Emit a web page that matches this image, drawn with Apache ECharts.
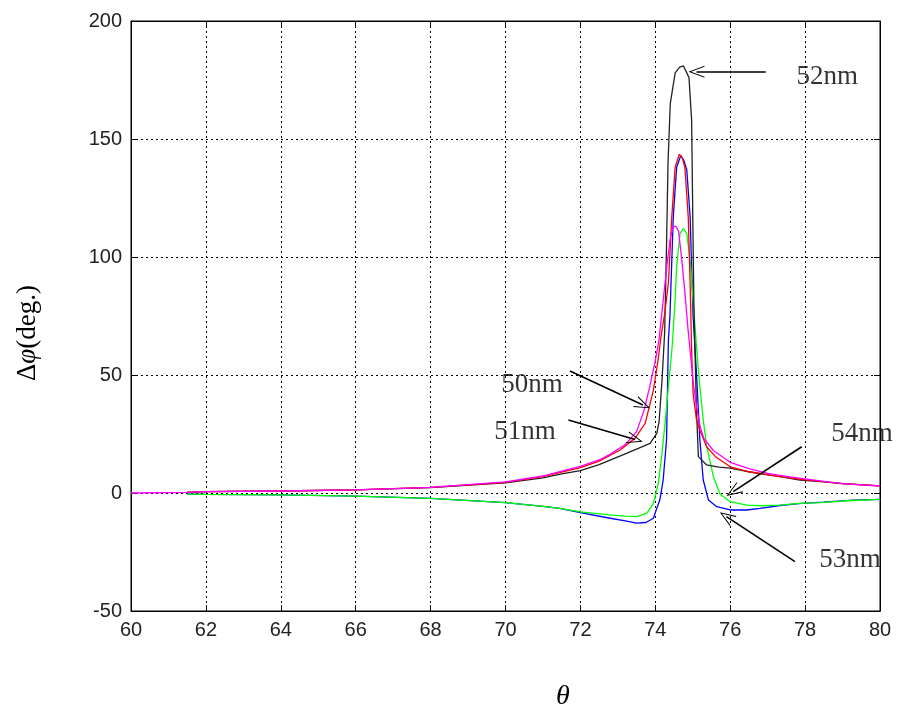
<!DOCTYPE html>
<html>
<head>
<meta charset="utf-8">
<script src="https://cdn.jsdelivr.net/npm/echarts@6/dist/echarts.min.js"></script>
<style>
  html, body { margin: 0; padding: 0; background: #fff; }
  #chart { width: 904px; height: 718px; }
</style>
</head>
<body>
<div id="chart"></div>
<script>
// theta (deg) and delta phi (deg), one pair of arrays per thickness
var theta50 = [60, 61.5, 62, 64, 66, 68, 70, 71, 71.5, 72, 72.5, 72.8, 73.2, 73.5, 73.7, 73.85, 74.0, 74.1, 74.2, 74.3, 74.4, 74.48, 74.55, 74.62, 74.7, 74.79, 74.87, 74.95, 75.02, 75.1, 75.2, 75.3, 75.55, 76, 76.5, 77, 77.5, 78, 78.5, 79, 79.5, 80];
var phi50   = [0, 0.3, 0.6, 0.85, 1.3, 2.4, 4.7, 7.2, 9.3, 11.3, 14, 16.5, 20.5, 26, 35, 45, 56, 65, 80, 95, 108, 113, 113, 111, 100, 85, 70, 57, 46, 36.6, 28, 23, 18, 13, 10.3, 8.3, 7, 6, 4.9, 4, 3.4, 3];

var theta51 = [61.5, 62, 64, 66, 68, 70, 71, 71.5, 72, 72.5, 73.06, 73.46, 73.73, 73.95, 74.08, 74.15, 74.25, 74.35, 74.44, 74.53, 74.64, 74.72, 74.79, 74.88, 74.93, 74.97, 75.01, 75.1, 75.19, 75.37, 75.6, 76, 76.5, 77, 77.33, 78, 78.5, 79, 80];
var phi51   = [0.3, 0.6, 0.85, 1.3, 2.4, 4.5, 6.9, 8.8, 10.8, 13.5, 18.2, 23.2, 29.5, 43.6, 57, 66, 76, 89, 117, 138, 143.6, 142, 138, 117, 89, 60.6, 42, 31, 26.7, 19.6, 15.5, 11.1, 9, 7.8, 6.9, 5.6, 4.8, 4, 3];

var theta52 = [61.5, 62, 64, 66, 68, 70, 71, 71.5, 72, 72.5, 73.23, 73.86, 74.04, 74.1, 74.18, 74.25, 74.3, 74.34, 74.4, 74.53, 74.65, 74.75, 74.9, 74.97, 75.0, 75.03, 75.06, 75.1, 75.15, 75.37, 75.7, 76, 76.5, 77, 77.33, 77.86, 78.5, 79, 80];
var phi52   = [0.3, 0.6, 0.85, 1.3, 2.3, 4.3, 6.4, 8.1, 9.5, 12, 16.8, 21, 25.3, 30, 48, 68, 105, 140, 165, 178, 180.5, 181, 176, 158, 118, 80, 60, 35, 15.4, 11.9, 11, 10.5, 9, 7.7, 6.9, 5.5, 4.7, 4, 3];

var theta53 = [61.5, 62, 64, 66, 68, 70, 71, 71.45, 72, 72.8, 73.2, 73.5, 73.75, 73.95, 74.05, 74.12, 74.21, 74.3, 74.35, 74.39, 74.48, 74.57, 74.68, 74.76, 74.84, 74.93, 74.97, 75.01, 75.1, 75.19, 75.28, 75.42, 75.64, 76, 76.44, 76.8, 77.33, 77.9, 78.5, 79.28, 80];
var phi53   = [-0.5, -0.6, -0.8, -1.3, -2.3, -4.1, -5.7, -6.5, -8.3, -10.7, -11.8, -12.8, -12.5, -10.7, -6, -3, 5.5, 22.5, 64.8, 74.7, 117, 138, 143, 141, 137, 117, 96, 74.7, 50.7, 22.5, 5.5, -3, -5.8, -7.2, -7.2, -6.5, -5.3, -4.4, -3.9, -3, -2.7];

var theta54 = [61.5, 62, 64, 66, 68, 70, 71, 71.45, 72, 72.79, 73.2, 73.5, 73.77, 73.95, 74.08, 74.17, 74.26, 74.35, 74.45, 74.53, 74.57, 74.66, 74.75, 74.84, 74.93, 75.01, 75.1, 75.19, 75.28, 75.37, 75.55, 75.73, 76, 76.44, 76.8, 77.33, 77.86, 78.4, 79, 80];
var phi54   = [-0.5, -0.6, -0.8, -1.3, -2.3, -4.1, -5.7, -6.5, -8.0, -9.3, -9.8, -10, -8.6, -4.4, 4.1, 15.4, 29.5, 45, 62, 82, 96, 110, 112, 110, 98.7, 81.8, 62, 45, 31, 20, 7, -0.5, -3.7, -5.1, -5.4, -5.1, -4.4, -4.1, -3.4, -2.7];

// annotation texts with their centres, and arrows (tail -> tip) in data units
var labelNames = ['52nm', '50nm', '51nm', '54nm', '53nm'];
var labelPos   = [[78.59, 176.5], [70.71, 45.8], [70.52, 25.8], [79.52, 25], [79.2, -28.4]];
var arrows = [
  [[76.95, 178.5], [75.1, 178.5]],
  [[71.72, 51.7], [73.67, 37.3]],
  [[71.68, 30.9], [73.46, 22.7]],
  [[77.91, 19.6], [76.08, 0.6]],
  [[77.73, -29.1], [75.9, -10]]
];

var xTicks = { min: 60, max: 80, interval: 2 };
var yTicks = { min: -50, max: 200, interval: 50 };

function pairs(xs, ys) {
  var out = [];
  for (var i = 0; i < xs.length; i++) out.push([xs[i], ys[i]]);
  return out;
}

function curve(name, color, xs, ys) {
  return {
    name: name,
    type: 'line',
    data: pairs(xs, ys),
    showSymbol: false,
    smooth: false,
    silent: true,
    lineStyle: { color: color, width: 1.3 },
    itemStyle: { color: color },
    z: 3
  };
}

// open "V" arrow head
var chevron = 'path://M10,0 L20,24 L18.2,24 L10,4 L1.8,24 L0,24 Z';

var chart = echarts.init(document.getElementById('chart'));
var tickFont = { fontFamily: 'Liberation Sans, Arial, sans-serif', fontSize: 20, color: '#222' };

chart.setOption({
  animation: false,
  backgroundColor: '#fff',
  grid: { left: 131, right: 24, top: 21, bottom: 107, show: true, borderColor: '#000', borderWidth: 1 },
  xAxis: [
    {
      type: 'value', min: xTicks.min, max: xTicks.max, interval: xTicks.interval,
      axisLine: { show: true, onZero: false, lineStyle: { color: '#000' } },
      axisTick: { show: true, inside: true, length: 6, lineStyle: { color: '#000' } },
      axisLabel: Object.assign({ margin: 9 }, tickFont),
      splitLine: { show: true, lineStyle: { color: '#000', type: [2, 3], width: 1 } }
    },
    {
      type: 'value', position: 'top', min: xTicks.min, max: xTicks.max, interval: xTicks.interval,
      axisLine: { show: true, onZero: false, lineStyle: { color: '#000' } },
      axisTick: { show: true, inside: true, length: 6, lineStyle: { color: '#000' } },
      axisLabel: { show: false }, splitLine: { show: false }
    }
  ],
  yAxis: [
    {
      type: 'value', min: yTicks.min, max: yTicks.max, interval: yTicks.interval,
      axisLine: { show: true, onZero: false, lineStyle: { color: '#000' } },
      axisTick: { show: true, inside: true, length: 6, lineStyle: { color: '#000' } },
      axisLabel: Object.assign({ margin: 9 }, tickFont),
      splitLine: { show: true, lineStyle: { color: '#000', type: [2, 3], width: 1 } }
    },
    {
      type: 'value', position: 'right', min: yTicks.min, max: yTicks.max, interval: yTicks.interval,
      axisLine: { show: true, onZero: false, lineStyle: { color: '#000' } },
      axisTick: { show: true, inside: true, length: 6, lineStyle: { color: '#000' } },
      axisLabel: { show: false }, splitLine: { show: false }
    }
  ],
  series: [
    curve('53nm', '#0000ff', theta53, phi53),
    curve('54nm', '#00ff00', theta54, phi54),
    curve('52nm', '#222222', theta52, phi52),
    curve('51nm', '#ff0000', theta51, phi51),
    curve('50nm', '#ff00ff', theta50, phi50),
    {
      name: 'labels',
      type: 'scatter',
      silent: true,
      symbolSize: 0,
      z: 5,
      data: labelNames.map(function (n, i) { return { name: n, value: labelPos[i] }; }),
      label: {
        show: true, position: 'inside', formatter: '{b}',
        fontFamily: 'Liberation Serif, Times New Roman, serif', fontSize: 27, color: '#000'
      },
      markLine: {
        silent: true,
        animation: false,
        symbol: ['none', chevron],
        symbolSize: [12, 16],
        label: { show: false },
        lineStyle: { color: '#000', width: 1.6, type: 'solid' },
        emphasis: { disabled: true },
        data: arrows.map(function (a) { return [{ coord: a[0] }, { coord: a[1] }]; })
      }
    }
  ],
  graphic: [
    {
      type: 'text', x: 28, y: 333, rotation: Math.PI / 2, silent: true,
      style: {
        text: 'Δ{i|φ}(deg.)', align: 'center', verticalAlign: 'middle',
        fontFamily: 'Liberation Serif, Times New Roman, serif', fontSize: 27, fill: '#000',
        rich: { i: { fontStyle: 'italic', fontFamily: 'Liberation Serif, Times New Roman, serif', fontSize: 27 } }
      }
    },
    {
      type: 'text', x: 563, y: 697, silent: true,
      style: {
        text: 'θ', align: 'center', verticalAlign: 'middle', fontStyle: 'italic',
        fontFamily: 'Liberation Serif, Times New Roman, serif', fontSize: 28, fill: '#000'
      }
    }
  ]
});
</script>
</body>
</html>
